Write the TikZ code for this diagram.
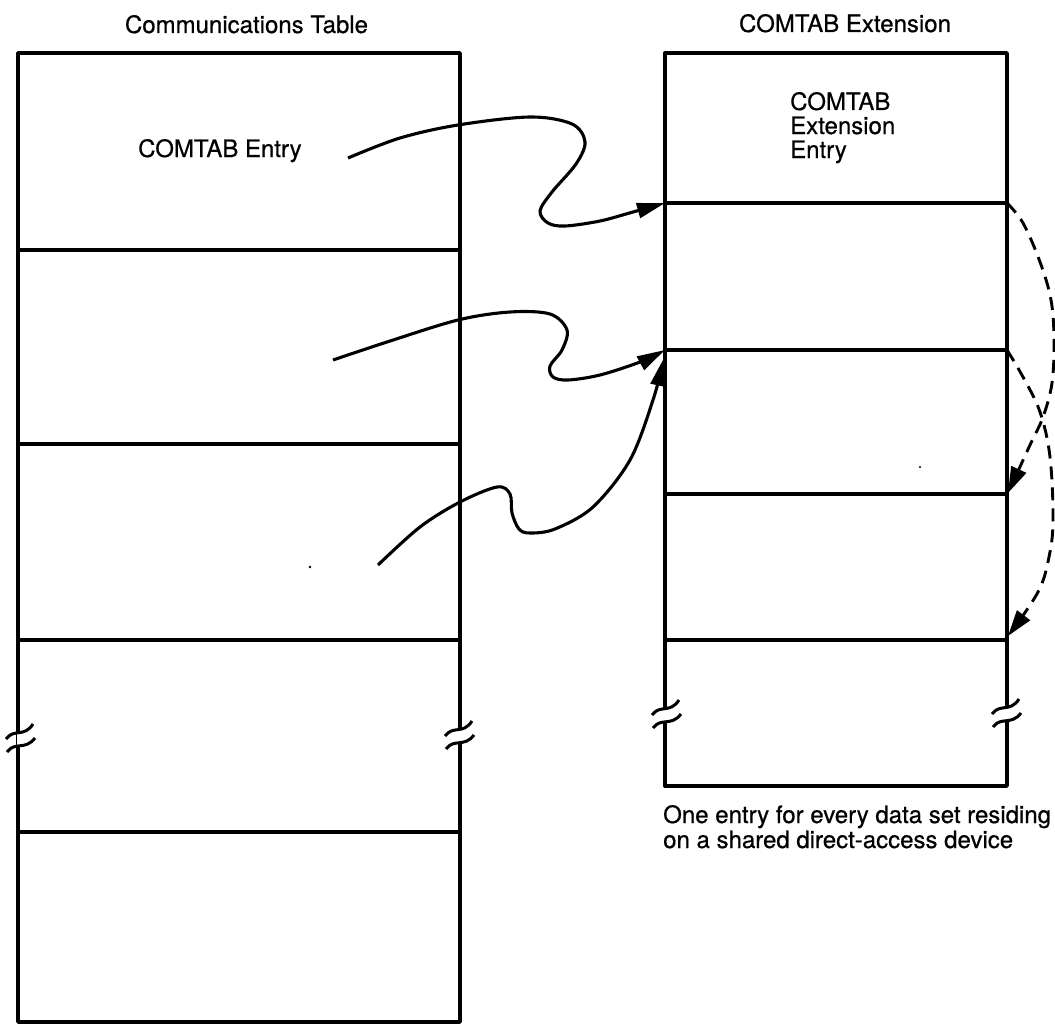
\documentclass[tikz,border=0pt]{standalone}
\usepackage{fontspec}
\setmainfont{TeX Gyre Heros}[FakeBold=0.6]
\newfontfamily\lblfont{TeX Gyre Heros}[FakeBold=0.6]
\usetikzlibrary{arrows.meta}
\begin{document}
\begin{tikzpicture}[x=1pt,y=-1pt,line join=round,
  tbl/.style={line width=3.4pt},
  wavy/.style={line width=3.1pt,-{Triangle[length=28pt,width=15pt]}},
  dsh/.style={line width=2.9pt,dash pattern=on 13pt off 8pt,-{Triangle[length=26pt,width=16pt]}},
  lbl/.style={font=\lblfont\fontsize{24}{24}\selectfont,inner sep=0pt},
  brk/.pic={
    \fill[white] (-3,-5) rectangle (3,7);
    \draw[line width=3pt] (-14,1) .. controls (-6,-10) and (4,0) .. (13,-14);
    \draw[line width=3pt] (-13,14) .. controls (-5,3) and (5,13) .. (15,0);
  }]
\useasboundingbox (0,0) rectangle (1055,1025);

% titles
\node[lbl,anchor=base] (t1) at (246.5,33) {Communications Table};
\node[lbl,anchor=base] (t2) at (845,32) {COMTAB Extension};

% left table
\draw[tbl] (18,53) rectangle (460,1022);
\foreach \yy in {250,444,640,832} \draw[tbl] (18,\yy) -- (460,\yy);

% right table
\draw[tbl] (665,53) rectangle (1007,786);
\foreach \yy in {203,350,494,640} \draw[tbl] (665,\yy) -- (1007,\yy);

% break marks
\pic at (20,738) {brk};
\pic at (459,735) {brk};
\pic at (666,714) {brk};
\pic at (1006,713) {brk};

% texts inside
\node[lbl,anchor=base west] (e1) at (138,157) {COMTAB Entry};
\node[lbl,anchor=base west] (x1) at (790,110) {COMTAB};
\node[lbl,anchor=base west] (x2) at (790,134) {Extension};
\node[lbl,anchor=base west] (x3) at (790,158) {Entry};
\node[lbl,anchor=base west] (c1) at (663,823) {One entry for every data set residing};
\node[lbl,anchor=base west] (c2) at (663,848) {on a shared direct-access device};

% connector end points
\coordinate (s1) at (348,158);
\coordinate (s2) at (333,360);
\coordinate (s3) at (378,565);
\coordinate (r1) at (665,203);
\coordinate (r2) at (665,350);
\coordinate (r2b) at (664,358);
\coordinate (d1) at (1007,203);
\coordinate (d2) at (1007,350);
\coordinate (d3) at (1008,493);
\coordinate (d4) at (1008,636);

% wavy arrows
\draw[wavy] plot[smooth,tension=0.55] coordinates {(s1) (400,138) (458,125) (530,117) (572,124) (585,142) (576,164) (552,192) (540,211) (548,223) (565,226) (600,221) (633,212) (r1)};
\draw[wavy] plot[smooth,tension=0.55] coordinates {(s2) (387,342) (458,320) (510,312) (550,314) (567,330) (562,350) (550,366) (553,377) (568,380) (600,375) (640,362) (r2)};
\draw[wavy] plot[smooth,tension=0.55] coordinates {(s3) (420,527) (460,502) (497,487) (510,494) (512,513) (519,529) (530,533) (555,529) (593,507) (630,460) (653,400) (r2b)};

% dashed arrows
\draw[dsh] plot[smooth,tension=0.6] coordinates {(d1) (1023,223) (1040,262) (1051,300) (1054,340) (1052,383) (1043,417) (1030,445) (d3)};
\draw[dsh] plot[smooth,tension=0.6] coordinates {(d2) (1023,377) (1040,412) (1050,457) (1053,520) (1049,557) (1038,592) (d4)};

% specks
\fill (310,567) circle (1.3);
\fill (920,467) circle (1.1);
\end{tikzpicture}
\end{document}
